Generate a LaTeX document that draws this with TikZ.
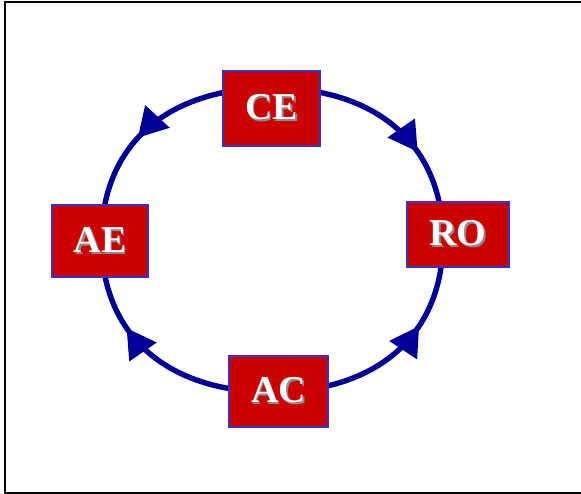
\documentclass[tikz,border=0pt]{standalone}
\usepackage{fontspec}
\setmainfont{Liberation Serif}
\usetikzlibrary{arrows.meta,decorations.markings}

\definecolor{cyclelineblue}{HTML}{000099}
\definecolor{boxred}{HTML}{CC0000}
\definecolor{boxedge}{HTML}{3333CC}
\definecolor{shadowgray}{HTML}{8C8C8C}

% white bold label with a soft grey drop shadow
\newcommand\embossed[1]{\rlap{\kern1.8pt\raisebox{-1.8pt}{\textcolor{shadowgray}{#1}}}\textcolor{white}{#1}}

\tikzset{
  stagebox/.style={draw=boxedge, line width=1.3pt, fill=boxred,
    inner sep=0pt, font=\fontsize{38}{38}\selectfont\bfseries},
  cycleedge/.style={draw=cyclelineblue, line width=5.4pt,
    postaction={decorate},
    decoration={markings, mark=at position #1 with
      {\arrow[cyclelineblue]{Triangle[length=29pt,width=32pt]}}}}
}

\begin{document}
\begin{tikzpicture}[x=1pt,y=-1pt]
  \useasboundingbox (0,0) rectangle (581,494);
  \draw[line width=2pt] (4.5,2) rectangle (584,492.5);

  % extreme points of the cycle
  \coordinate (top) at (272,88);
  \coordinate (left) at (101.5,240);
  \coordinate (right) at (443,240);
  \coordinate (bottom) at (272,392);

  % the four quarter arcs
  \draw[cycleedge=0.57] (top) .. controls (166,88) and (101.5,146) .. (left);
  \draw[cycleedge=0.64] (top) .. controls (378,88) and (443,146) .. (right);
  \draw[cycleedge=0.64] (bottom) .. controls (166,392) and (101.5,334) .. (left);
  \draw[cycleedge=0.65] (bottom) .. controls (378,392) and (443,334) .. (right);

  % stage boxes
  \node[stagebox, minimum width=97pt, minimum height=75pt] (CE) at (271.5,108.5) {\embossed{CE}};
  \node[stagebox, minimum width=96pt, minimum height=72pt] (AE) at (100,241) {\embossed{AE}};
  \node[stagebox, minimum width=102pt, minimum height=65pt] (RO) at (458,234.5) {\embossed{RO}};
  \node[stagebox, minimum width=99pt, minimum height=71pt] (AC) at (278.5,391.5) {\embossed{AC}};
\end{tikzpicture}
\end{document}
